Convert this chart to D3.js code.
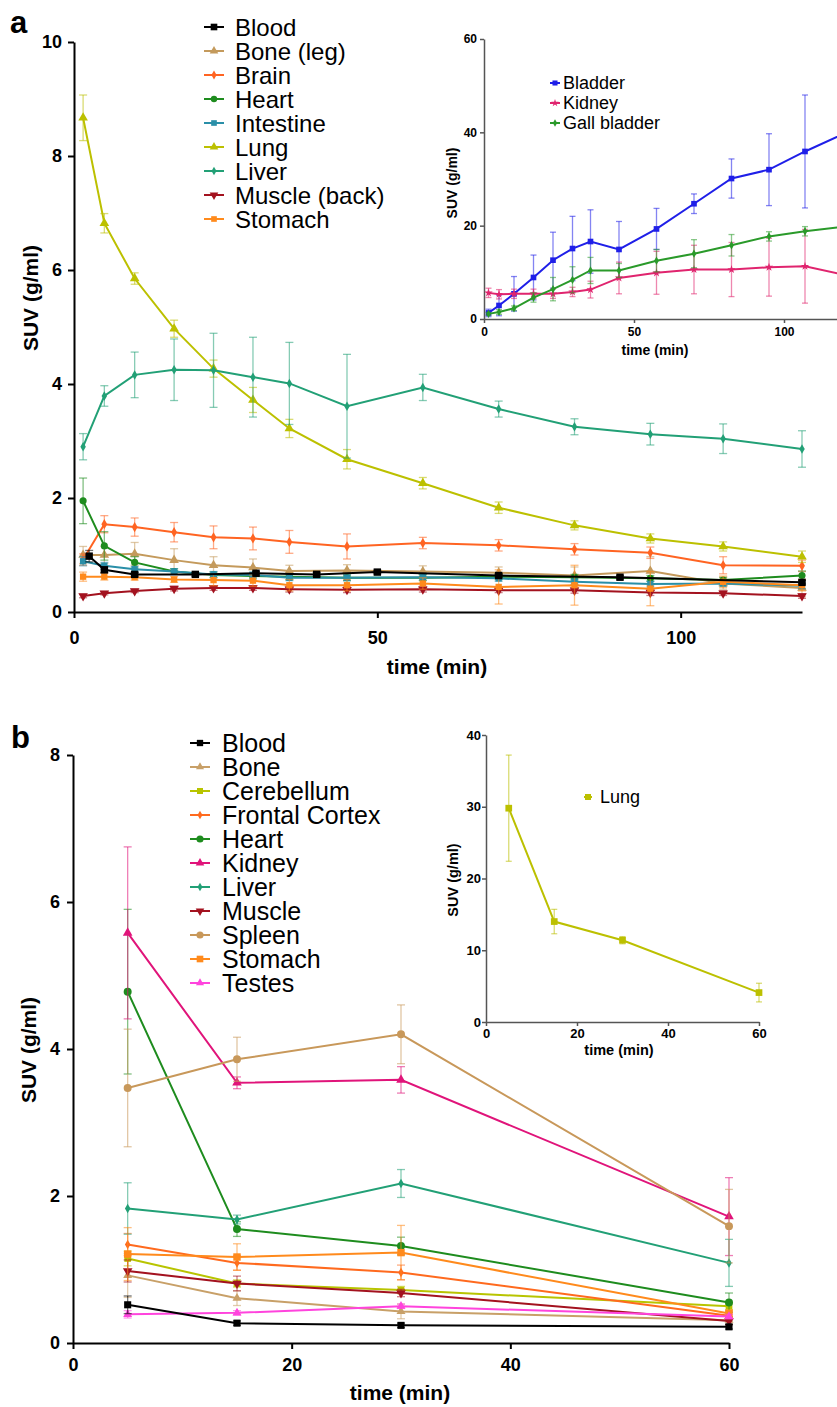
<!DOCTYPE html>
<html>
<head>
<meta charset="utf-8">
<script src="https://cdn.jsdelivr.net/npm/d3@7"></script>
<style>
body { margin: 0; background: #fff; }
</style>
</head>
<body>
<svg id="chart" width="837" height="1407"></svg>
<script>
// ---- panel a, main plot ----
var timesA = [1.5, 5, 10, 16.5, 23, 29.5, 35.5, 45, 57.5, 70, 82.5, 95, 107, 120];
var bloodTimesA = [2.5, 5, 10, 20, 30, 40, 50, 70, 90, 120];

var bloodA = [0.98, 0.74, 0.66, 0.66, 0.68, 0.66, 0.70, 0.64, 0.61, 0.52];
var bloodErrA = [0.10, 0.05, 0.03, 0.03, 0.03, 0.03, 0.03, 0.03, 0.03, 0.03];
var boneA = [1.0, 1.0, 1.02, 0.91, 0.82, 0.78, 0.72, 0.73, 0.71, 0.69, 0.64, 0.72, 0.50, 0.42];
var boneErrA = [0.15, 0.15, 0.2, 0.2, 0.15, 0.15, 0.1, 0.1, 0.1, 0.1, 0.15, 0.25, 0.1, 0.15];
var brainA = [0.92, 1.54, 1.49, 1.40, 1.31, 1.29, 1.23, 1.15, 1.21, 1.17, 1.10, 1.04, 0.82, 0.81];
var brainErrA = [0.1, 0.15, 0.16, 0.17, 0.2, 0.2, 0.2, 0.22, 0.1, 0.1, 0.1, 0.1, 0.15, 0.1];
var heartA = [1.95, 1.16, 0.87, 0.71, 0.65, 0.63, 0.62, 0.60, 0.60, 0.62, 0.61, 0.59, 0.56, 0.64];
var heartErrA = [0.4, 0.25, 0.1, 0.05, 0.05, 0.05, 0.05, 0.05, 0.05, 0.05, 0.05, 0.05, 0.05, 0.08];
var intestineA = [0.89, 0.81, 0.75, 0.71, 0.66, 0.65, 0.60, 0.60, 0.61, 0.59, 0.53, 0.49, 0.50, 0.46];
var intestineErrA = [0.08, 0.06, 0.05, 0.05, 0.05, 0.05, 0.05, 0.05, 0.05, 0.05, 0.05, 0.05, 0.05, 0.05];
var lungA = [8.67, 6.82, 5.85, 4.97, 4.27, 3.72, 3.22, 2.68, 2.26, 1.83, 1.52, 1.29, 1.15, 0.97];
var lungErrA = [0.4, 0.17, 0.1, 0.15, 0.15, 0.22, 0.16, 0.17, 0.1, 0.1, 0.08, 0.08, 0.08, 0.1];
var liverA = [2.90, 3.79, 4.16, 4.25, 4.24, 4.12, 4.01, 3.61, 3.94, 3.56, 3.25, 3.12, 3.04, 2.86];
var liverErrA = [0.23, 0.18, 0.4, 0.54, 0.65, 0.7, 0.72, 0.91, 0.23, 0.14, 0.14, 0.19, 0.26, 0.32];
var muscleA = [0.28, 0.33, 0.37, 0.41, 0.42, 0.42, 0.40, 0.39, 0.40, 0.38, 0.38, 0.34, 0.33, 0.28];
var muscleErrA = [0.03, 0.03, 0.03, 0.04, 0.04, 0.04, 0.05, 0.05, 0.05, 0.04, 0.05, 0.05, 0.04, 0.04];
var stomachA = [0.62, 0.62, 0.61, 0.57, 0.56, 0.55, 0.47, 0.47, 0.50, 0.44, 0.47, 0.41, 0.53, 0.47];
var stomachErrA = [0.08, 0.06, 0.05, 0.05, 0.1, 0.1, 0.1, 0.1, 0.1, 0.3, 0.35, 0.3, 0.1, 0.1];

// ---- panel a, inset ----
var bladderA = [1.3, 2.9, 5.4, 8.9, 12.6, 15.1, 16.6, 14.9, 19.3, 24.7, 30.1, 32.0, 35.9, 39.7];
var bladderErrA = [0.8, 2.2, 3.7, 4.8, 6, 6.9, 6.8, 6, 4.4, 2.1, 4.2, 7.7, 12.1, 9];
var kidneyA = [5.6, 5.3, 5.4, 5.4, 5.4, 5.8, 6.3, 8.8, 9.9, 10.6, 10.6, 11.1, 11.3, 9.5];
var kidneyErrA = [1, 1, 1, 1, 1, 1, 1.8, 3.4, 4.6, 5.2, 5.8, 6.2, 7.9, 6];
var gallA = [1.1, 1.5, 2.3, 4.6, 6.4, 8.4, 10.4, 10.4, 12.5, 14.0, 15.8, 17.7, 18.8, 19.8];
var gallErrA = [0.3, 0.5, 0.5, 1, 2.5, 2.8, 2.8, 1.5, 2.4, 3, 2.3, 1, 1, 1];

// ---- panel b ----
var timesB = [5, 15, 30, 60];
var bloodB = [0.52, 0.27, 0.24, 0.22];
var bloodErrB = [0.12, 0.03, 0.03, 0.03];
var boneB = [0.92, 0.61, 0.43, 0.31];
var boneErrB = [0.3, 0.1, 0.1, 0.05];
var cerebellumB = [1.15, 0.81, 0.72, 0.50];
var cerebellumErrB = [0.1, 0.05, 0.05, 0.05];
var cortexB = [1.34, 1.09, 0.96, 0.37];
var cortexErrB = [0.15, 0.1, 0.1, 0.05];
var heartB = [4.78, 1.55, 1.32, 0.55];
var heartErrB = [1.12, 0.1, 0.12, 0.13];
var kidneyB = [5.58, 3.54, 3.58, 1.72];
var kidneyErrB = [1.17, 0.08, 0.18, 0.53];
var liverB = [1.83, 1.68, 2.17, 1.09];
var liverErrB = [0.35, 0.06, 0.19, 0.32];
var muscleB = [0.98, 0.81, 0.68, 0.30];
var muscleErrB = [0.15, 0.1, 0.05, 0.05];
var spleenB = [3.47, 3.86, 4.20, 1.59];
var spleenErrB = [0.8, 0.3, 0.4, 0.5];
var stomachB = [1.21, 1.17, 1.23, 0.40];
var stomachErrB = [0.36, 0.18, 0.37, 0.05];
var testesB = [0.39, 0.41, 0.50, 0.36];
var testesErrB = [0.05, 0.03, 0.03, 0.03];
var lungB = [29.8, 14.0, 11.4, 4.1];
var lungErrB = [7.4, 1.7, 0.5, 1.3];

var FONT = '"Liberation Sans", Arial, Helvetica, sans-serif';
var svg = d3.select('#chart');

var SQ = d3.symbolSquare, TRI = d3.symbolTriangle, DIA = d3.symbolDiamond,
    CIR = d3.symbolCircle, STAR = d3.symbolStar;

function S(name, times, values, errs, color, symbol, size, flip) {
    return {name: name, times: times, values: values, errs: errs, color: color,
            symbol: symbol, size: size, flip: !!flip};
}

var seriesA = [
    S('Blood', bloodTimesA, bloodA, bloodErrA, '#000000', SQ, 55),
    S('Bone (leg)', timesA, boneA, boneErrA, '#c49a5c', TRI, 40),
    S('Brain', timesA, brainA, brainErrA, '#ff6422', DIA, 30),
    S('Heart', timesA, heartA, heartErrA, '#1e8c1e', CIR, 40),
    S('Intestine', timesA, intestineA, intestineErrA, '#2a8fa8', SQ, 40),
    S('Lung', timesA, lungA, lungErrA, '#bcc000', TRI, 40),
    S('Liver', timesA, liverA, liverErrA, '#22a076', DIA, 26),
    S('Muscle (back)', timesA, muscleA, muscleErrA, '#a3121f', TRI, 40, true),
    S('Stomach', timesA, stomachA, stomachErrA, '#ff8a1c', SQ, 40)
];
var insetA = [
    S('Bladder', timesA, bladderA, bladderErrA, '#1f1fe8', SQ, 32),
    S('Kidney', timesA, kidneyA, kidneyErrA, '#e0246e', STAR, 22),
    S('Gall bladder', timesA, gallA, gallErrA, '#2a9a2a', DIA, 20)
];
var seriesB = [
    S('Blood', timesB, bloodB, bloodErrB, '#000000', SQ, 50),
    S('Bone', timesB, boneB, boneErrB, '#c8a068', TRI, 35),
    S('Cerebellum', timesB, cerebellumB, cerebellumErrB, '#b8c400', SQ, 45),
    S('Frontal Cortex', timesB, cortexB, cortexErrB, '#ff6a1e', DIA, 26),
    S('Heart', timesB, heartB, heartErrB, '#1e8c1e', CIR, 50),
    S('Kidney', timesB, kidneyB, kidneyErrB, '#e0147a', TRI, 40),
    S('Liver', timesB, liverB, liverErrB, '#22a076', DIA, 26),
    S('Muscle', timesB, muscleB, muscleErrB, '#a3121f', TRI, 40, true),
    S('Spleen', timesB, spleenB, spleenErrB, '#c8985a', CIR, 50),
    S('Stomach', timesB, stomachB, stomachErrB, '#ff8a1c', SQ, 55),
    S('Testes', timesB, testesB, testesErrB, '#ff44dd', TRI, 35)
];
var insetB = [
    S('Lung', timesB, lungB, lungErrB, '#bcc000', SQ, 45)
];

function panel(o) {
    var x = d3.scaleLinear().domain(o.xDomain).range(o.xRange);
    var y = d3.scaleLinear().domain(o.yDomain).range(o.yRange);
    var g = svg.append('g');

    var yAx = g.append('g')
        .attr('transform', 'translate(' + o.xRange[0] + ',0)')
        .call(d3.axisLeft(y).tickValues(o.yTicks).tickSizeInner(o.tick).tickSizeOuter(0).tickPadding(o.yPad));
    var xAx = g.append('g')
        .attr('transform', 'translate(0,' + o.yRange[0] + ')')
        .call(d3.axisBottom(x).tickValues(o.xTicks).tickSizeInner(o.tick).tickSizeOuter(0).tickPadding(o.xPad));
    [yAx, xAx].forEach(function (a) {
        a.attr('font-family', FONT).attr('font-size', o.tickFont).attr('font-weight', 'bold');
        a.select('.domain').attr('stroke', o.axisColor).attr('stroke-width', o.axisW);
        a.selectAll('.tick line').attr('stroke', o.axisColor).attr('stroke-width', o.axisW);
        a.selectAll('.tick text').attr('fill', '#000');
    });

    g.append('text')
        .attr('transform', 'translate(' + o.yLabelX + ',' + o.yLabelY + ') rotate(-90)')
        .attr('text-anchor', 'middle')
        .attr('font-family', FONT).attr('font-weight', 'bold').attr('font-size', o.labelFont)
        .text('SUV (g/ml)');
    g.append('text')
        .attr('x', o.xLabelX).attr('y', o.xLabelY)
        .attr('text-anchor', 'middle')
        .attr('font-family', FONT).attr('font-weight', 'bold').attr('font-size', o.labelFont)
        .text('time (min)');

    o.series.forEach(function (s) {
        var pts = s.times.map(function (t, i) {
            return {t: t, v: s.values[i], e: s.errs[i]};
        });
        var sg = g.append('g');
        var eg = sg.append('g').attr('stroke', s.color).attr('stroke-opacity', 0.55).attr('stroke-width', 1.3);
        eg.selectAll('line.bar').data(pts).join('line')
            .attr('x1', function (d) { return x(d.t); })
            .attr('x2', function (d) { return x(d.t); })
            .attr('y1', function (d) { return y(Math.max(0, d.v - d.e)); })
            .attr('y2', function (d) { return y(d.v + d.e); });
        [1, -1].forEach(function (sign) {
            eg.selectAll('line.cap' + sign).data(pts).join('line')
                .attr('x1', function (d) { return x(d.t) - o.cap; })
                .attr('x2', function (d) { return x(d.t) + o.cap; })
                .attr('y1', function (d) { return y(Math.max(0, d.v + sign * d.e)); })
                .attr('y2', function (d) { return y(Math.max(0, d.v + sign * d.e)); });
        });
        sg.append('path').datum(pts)
            .attr('d', d3.line().x(function (d) { return x(d.t); }).y(function (d) { return y(d.v); }))
            .attr('fill', 'none').attr('stroke', s.color).attr('stroke-width', o.lineW);
        sg.selectAll('path.m').data(pts).join('path')
            .attr('transform', function (d) {
                return 'translate(' + x(d.t) + ',' + y(d.v) + ')' + (s.flip ? ' rotate(180)' : '');
            })
            .attr('d', d3.symbol(s.symbol, s.size))
            .attr('fill', s.color);
    });
}

function legend(items, o) {
    var g = svg.append('g').attr('font-family', FONT).attr('font-size', o.font);
    items.forEach(function (s, i) {
        var cy = o.y0 + i * o.dy;
        if (o.line > 0) {
            g.append('line')
                .attr('x1', o.mx - o.line / 2).attr('x2', o.mx + o.line / 2)
                .attr('y1', cy).attr('y2', cy)
                .attr('stroke', s.color).attr('stroke-width', 2);
        }
        g.append('path')
            .attr('transform', 'translate(' + o.mx + ',' + cy + ')' + (s.flip ? ' rotate(180)' : ''))
            .attr('d', d3.symbol(s.symbol, s.size * 0.8))
            .attr('fill', s.color);
        g.append('text')
            .attr('x', o.tx).attr('y', cy + o.font * 0.36)
            .attr('fill', '#000')
            .text(s.name);
    });
}

// panel letters
svg.append('text').attr('x', 10).attr('y', 33)
    .attr('font-family', FONT).attr('font-weight', 'bold').attr('font-size', 31).text('a');
svg.append('text').attr('x', 11).attr('y', 748)
    .attr('font-family', FONT).attr('font-weight', 'bold').attr('font-size', 31).text('b');

// panel a main (blood drawn last so it sits on top)
panel({
    xDomain: [0, 120], xRange: [74, 802], yDomain: [0, 10], yRange: [612, 42],
    xTicks: [0, 50, 100], yTicks: [0, 2, 4, 6, 8, 10],
    tick: 6, xPad: 13, yPad: 6, tickFont: 18, labelFont: 21,
    axisColor: '#000', axisW: 2, lineW: 2, cap: 4,
    yLabelX: 38, yLabelY: 298, xLabelX: 437, xLabelY: 674,
    series: seriesA.slice(1).concat([seriesA[0]])
});
legend(seriesA, {mx: 214, line: 20, tx: 235, y0: 27, dy: 24, font: 24});

// panel a inset
panel({
    xDomain: [0, 120], xRange: [484, 844], yDomain: [0, 60], yRange: [319, 39],
    xTicks: [0, 50, 100], yTicks: [0, 20, 40, 60],
    tick: 4, xPad: 4, yPad: 3, tickFont: 12, labelFont: 14,
    axisColor: '#555', axisW: 1.5, lineW: 2, cap: 3,
    yLabelX: 457, yLabelY: 183, xLabelX: 655, xLabelY: 355,
    series: insetA
});
legend(insetA, {mx: 555, line: 10, tx: 563, y0: 83, dy: 20, font: 18});

// panel b main
panel({
    xDomain: [0, 60], xRange: [73, 729], yDomain: [0, 8], yRange: [1343, 755],
    xTicks: [0, 20, 40, 60], yTicks: [0, 2, 4, 6, 8],
    tick: 6, xPad: 9, yPad: 7, tickFont: 18, labelFont: 21,
    axisColor: '#000', axisW: 2, lineW: 2, cap: 4,
    yLabelX: 36, yLabelY: 1050, xLabelX: 400, xLabelY: 1400,
    series: seriesB.slice(1).concat([seriesB[0]])
});
legend(seriesB, {mx: 200, line: 20, tx: 222, y0: 743, dy: 24, font: 25});

// panel b inset
panel({
    xDomain: [0, 60], xRange: [486, 759], yDomain: [0, 40], yRange: [1022, 735],
    xTicks: [0, 20, 40, 60], yTicks: [0, 10, 20, 30, 40],
    tick: 4, xPad: 3, yPad: 1, tickFont: 13, labelFont: 14.5,
    axisColor: '#555', axisW: 1.5, lineW: 2, cap: 3,
    yLabelX: 458, yLabelY: 880, xLabelX: 619, xLabelY: 1055,
    series: insetB
});
legend(insetB, {mx: 588, line: 8, tx: 600, y0: 797, dy: 20, font: 18});
</script>
</body>
</html>
